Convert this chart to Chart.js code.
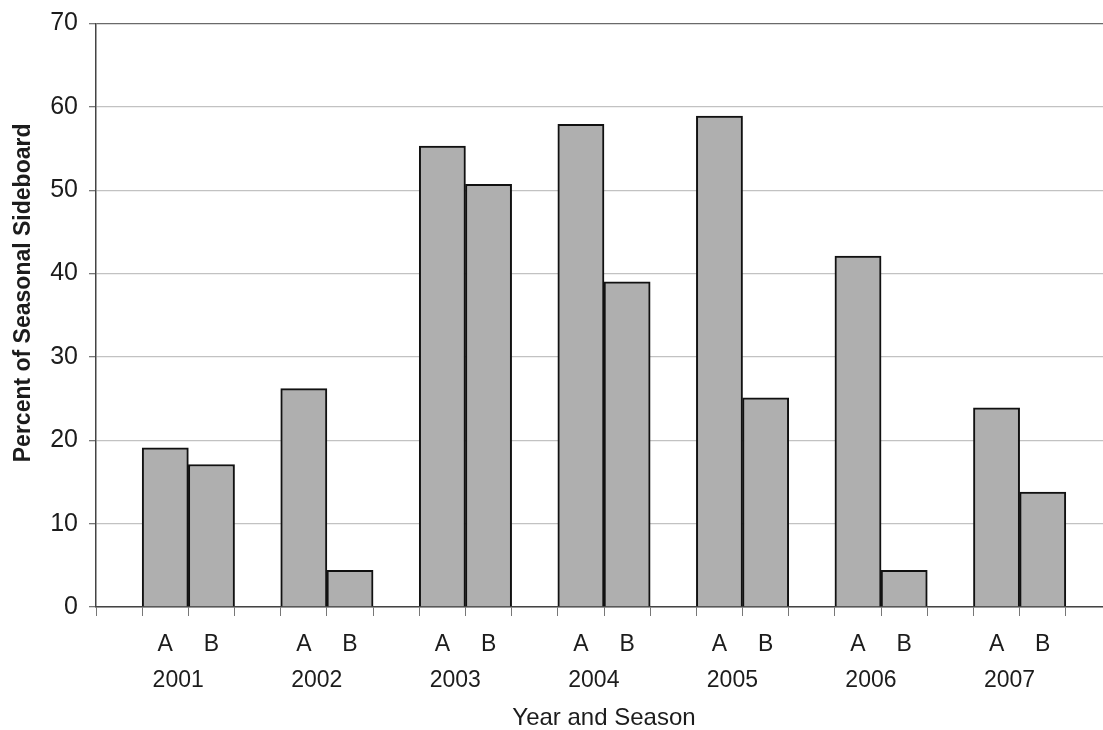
<!DOCTYPE html>
<html>
<head>
<meta charset="utf-8">
<script src="https://cdn.jsdelivr.net/npm/chart.js@4/dist/chart.umd.min.js"></script>
<style>
  html, body { margin: 0; padding: 0; background: #fff; overflow: hidden; width: 1103px; height: 730px; }
  canvas { display: block; }
</style>
</head>
<body>
<canvas id="c" width="1112" height="730"></canvas>
<script>
// ---- data ----
const years = ['2001', '2002', '2003', '2004', '2005', '2006', '2007'];
const seasons = ['A', 'B'];
const seasonA = [19.1, 26.2, 55.3, 57.9, 58.9, 42.1, 23.9];
const seasonB = [17.1, 4.4, 50.7, 39.0, 25.1, 4.4, 13.8];
const yTicks = [0, 10, 20, 30, 40, 50, 60, 70];

// build slot layout: blank, A, B per year, plus one trailing blank
const labels = [];
const values = [];
years.forEach((y, i) => {
  labels.push('');          values.push(null);
  labels.push(seasons[0]);  values.push(seasonA[i]);
  labels.push(seasons[1]);  values.push(seasonB[i]);
});
labels.push(''); values.push(null);

const FONT = "'Liberation Sans', Arial, sans-serif";
const TXT = '#1c1c1c';
const YEAR_POS = 1.78; // year label position within each 3-slot group

new Chart(document.getElementById('c'), {
  type: 'bar',
  data: {
    labels: labels,
    datasets: [{
      data: values,
      backgroundColor: '#afafaf',
      borderColor: '#111',
      borderWidth: 2,
      barPercentage: 1,
      categoryPercentage: 1
    }]
  },
  options: {
    responsive: false,
    animation: false,
    layout: { padding: { top: 22, left: 0, right: 0, bottom: 0 } },
    plugins: { legend: { display: false }, tooltip: { enabled: false } },
    scales: {
      x: {
        type: 'category',
        position: 'bottom',
        weight: 0,
        grid: { display: true, drawOnChartArea: false, drawTicks: true, tickLength: 9, tickColor: '#777', offset: true },
        border: { display: true, color: '#444', width: 1.5 },
        ticks: { font: { family: FONT, size: 23 }, color: TXT, padding: 15, maxRotation: 0, autoSkip: false },
        afterFit: s => { s.height = 55; }
      },
      x2: {
        type: 'linear',
        position: 'bottom',
        weight: 1,
        offset: false,
        min: 0,
        max: labels.length,
        grid: { display: false, drawTicks: false, offset: false },
        border: { display: false },
        ticks: {
          font: { family: FONT, size: 23 }, color: TXT, padding: 5, maxRotation: 0, autoSkip: false,
          callback: (v, i) => years[i]
        },
        afterBuildTicks: s => { s.ticks = years.map((y, i) => ({ value: i * 3 + YEAR_POS })); },
        title: { display: true, text: 'Year and Season', font: { family: FONT, size: 24, lineHeight: 1 }, color: TXT, padding: 0 },
        afterFit: s => { s.height = 68; }
      },
      y: {
        min: 0,
        max: 70,
        afterBuildTicks: s => { s.ticks = yTicks.map(v => ({ value: v })); },
        grid: {
          color: ctx => (ctx.tick && ctx.tick.value === 70 ? '#6a6a6a' : '#c2c2c2'),
          lineWidth: 1.3,
          drawTicks: true,
          tickLength: 7,
          tickColor: '#777'
        },
        border: { display: true, color: '#444', width: 1.5 },
        ticks: { font: { family: FONT, size: 25, lineHeight: 1 }, color: TXT, padding: 11 },
        title: {
          display: true,
          text: '\u00a0\u00a0\u00a0\u00a0\u00a0\u00a0\u00a0Percent of Seasonal Sideboard',
          font: { family: FONT, size: 23, weight: 'bold', lineHeight: 1.2 },
          color: TXT,
          padding: { top: 10, bottom: 0 }
        },
        afterFit: s => { s.width = 96; }
      }
    }
  }
});
</script>
</body>
</html>
